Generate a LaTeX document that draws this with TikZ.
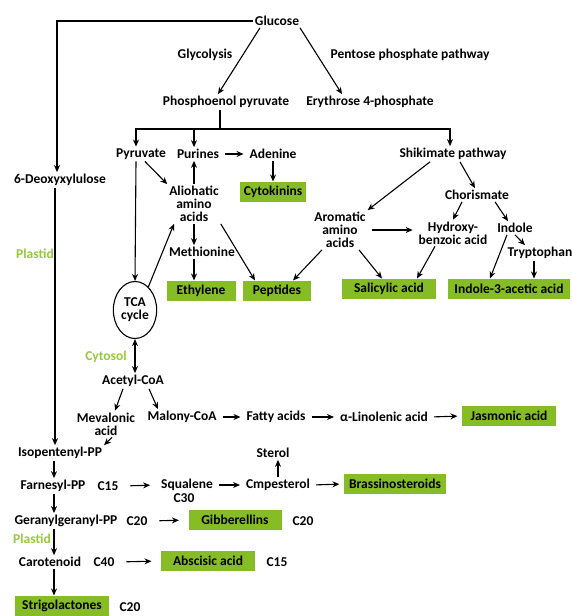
\documentclass[tikz,border=0pt]{standalone}
\usepackage{fontspec}
\setmainfont{Carlito}
\usetikzlibrary{shapes.geometric,arrows.meta}
\definecolor{hgreen}{RGB}{134,188,37}
\definecolor{tgreen}{RGB}{150,200,60}
\begin{document}
\begin{tikzpicture}[x=1pt,y=-1pt,line width=1.1pt,>={Stealth[length=7pt,width=6pt]},
	lbl/.style={font=\bfseries\fontsize{13.5}{13}\selectfont,inner sep=1.5pt,align=center},
	hbox/.style={lbl,fill=hgreen,minimum height=20},
	tag/.style={lbl,text=tgreen},
	hto/.style={->,shorten <=4pt,shorten >=4pt},
	cto/.style={->,shorten <=10pt,shorten >=9pt}]
	\useasboundingbox (0,0) rectangle (571,616);
	% glucose and glycolysis
	\node[lbl] (glu) at (277,21) {Glucose};
	\node[lbl] (gly) at (205,55) {Glycolysis};
	\node[lbl] (ppp) at (410,55) {Pentose phosphate pathway};
	\node[lbl] (pep) at (226,102) {Phosphoenol pyruvate};
	\node[lbl] (ery) at (370,102) {Erythrose 4-phosphate};
	\node[lbl] (deox) at (60,180) {6-Deoxyxylulose};
	\node[tag] (plas1) at (35,254) {Plastid};
	\draw[->] (glu.west) -| ([xshift=-3]deox.north);
	\draw[->] ([xshift=-17]glu.south) -- ([xshift=-8]pep.north);
	\draw[->] ([xshift=23]glu.south) -- ([xshift=-28]ery.north);
	% amino acids
	\node[lbl] (pyr) at (141,154) {Pyruvate};
	\node[lbl] (pur) at (198,154) {Purines};
	\node[lbl] (ade) at (273,154) {Adenine};
	\node[hbox,minimum width=66] (cyt) at (273,192) {Cytokinins};
	\node[lbl] (ali) at (194,204) {Aliohatic\\amino\\acids};
	\node[lbl] (meth) at (202,252) {Methionine};
	\node[hbox,minimum width=69] (eth) at (201,291) {Ethylene};
	\node[hbox,minimum width=68] (ptd) at (277,291) {Peptides};
	\node[ellipse,draw,lbl,minimum width=39,minimum height=57] (tca) at (135,310) {TCA\\cycle};
	\coordinate (br) at (220,129);
	\draw ([xshift=-6]pep.south) -- (br);
	\draw[->] (br) -| ([xshift=-5]pyr.north);
	\draw[->] ([xshift=-4]pur.north |- br) -- ([xshift=-4]pur.north);
	\draw[hto] (pur.east) -- (ade.west);
	\draw[->] (ade.south) -- (cyt.north);
	\draw[->] ([xshift=4]pyr.south) -- (ali.north west);
	\draw[->] (ali.north) -- (pur.south -| ali.north);
	\draw[->] ([xshift=-5]pyr.south) -- (tca.north);
	\draw[->] (tca.60) -- ([xshift=-20]ali.south);
	\draw[->] (ali.south) -- ([xshift=-8]meth.north);
	\draw[->] ([xshift=-8]meth.south) -- ([xshift=-7]eth.north);
	\draw[->] (ali.south east) -- ([xshift=-22]ptd.north);
	% shikimate pathway
	\node[lbl] (shik) at (453,154) {Shikimate pathway};
	\node[lbl] (chor) at (477,195) {Chorismate};
	\node[lbl] (aro) at (340,230) {Aromatic\\amino\\acids};
	\node[lbl] (hyd) at (453,233) {Hydroxy-\\benzoic acid};
	\node[lbl] (ind) at (515,228) {Indole};
	\node[lbl] (try) at (540,253) {Tryptophan};
	\node[hbox,minimum width=94] (sal) at (389,289) {Salicylic acid};
	\node[hbox,minimum width=122] (iaa) at (509,289) {Indole-3-acetic acid};
	\draw[->] (br) -| ([xshift=-3]shik.north);
	\draw[->] ([xshift=-23]shik.south) -- (aro.north east);
	\draw[->] ([xshift=7]shik.south) -- ([xshift=-2]chor.north);
	\draw[->] ([xshift=-15]chor.south) -- (hyd.north);
	\draw[->] ([xshift=18]chor.south) -- ([xshift=-7]ind.north);
	\draw[hto] (aro.east) -- (aro.east -| hyd.west);
	\draw[->] (ind.south) -- ([xshift=-15]try.north);
	\draw[->] ([xshift=-6]try.south) -- ([xshift=25]iaa.north);
	\draw[->] ([xshift=-8]ind.south) -- ([xshift=-19]iaa.north);
	\draw[->] ([xshift=-18]hyd.south) -- ([xshift=28]sal.north);
	\draw[->] ([xshift=19]aro.south) -- ([xshift=-7]sal.north);
	\draw[->] ([xshift=-18]aro.south) -- ([xshift=16]ptd.north);
	% acetyl-CoA
	\node[tag] (cytosol) at (106,357) {Cytosol};
	\node[lbl] (acoa) at (133,381) {Acetyl-CoA};
	\node[lbl] (mev) at (106,424) {Mevalonic\\acid};
	\node[lbl] (mal) at (182,417) {Malony-CoA};
	\node[lbl] (fat) at (276,417) {Fatty acids};
	\node[lbl] (lin) at (384,417) {α-Linolenic acid};
	\node[hbox,minimum width=94] (jas) at (509,416) {Jasmonic acid};
	\draw[<->] (tca.south) -- (tca.south |- acoa.north);
	\draw[->] ([xshift=-10]acoa.south) -- ([xshift=9]mev.north);
	\draw[->] ([xshift=16]acoa.south) -- ([xshift=-24]mal.north);
	\draw[hto] (mal.east) -- (fat.west);
	\draw[hto] (fat.east) -- (lin.west);
	\draw[hto] (lin.east) -- (jas.west);
	% terpenoids
	\node[lbl] (ipp) at (60,453) {Isopentenyl-PP};
	\node[lbl] (far) at (53,486) {Farnesyl-PP};
	\node[lbl] (c15a) at (108,486) {C15};
	\node[lbl] (sq) at (187,485) {Squalene};
	\node[lbl] (c30) at (184,498) {C30};
	\node[lbl] (cmp) at (278,485) {Cmpesterol};
	\node[lbl] (ster) at (273,453) {Sterol};
	\node[hbox,minimum width=102] (bra) at (395,484) {Brassinosteroids};
	\node[lbl] (ggpp) at (66,521) {Geranylgeranyl-PP};
	\node[lbl] (c20a) at (137,521) {C20};
	\node[hbox,minimum width=93] (gib) at (235,520) {Gibberellins};
	\node[lbl] (c20b) at (303,521) {C20};
	\node[tag] (plas2) at (32,539) {Plastid};
	\node[lbl] (car) at (50,562) {Carotenoid};
	\node[lbl] (c40) at (104,562) {C40};
	\node[hbox,minimum width=94] (aba) at (208,561) {Abscisic acid};
	\node[lbl] (c15b) at (277,562) {C15};
	\node[hbox,minimum width=94] (str) at (62,606) {Strigolactones};
	\node[lbl] (c20c) at (130,607) {C20};
	\draw[->] ([xshift=-5]deox.south) -- ([xshift=-5]ipp.north);
	\draw[->] ([xshift=6]mev.south) -- (ipp.north east);
	\draw[->] ([xshift=-6]ipp.south) -- ([xshift=1]far.north);
	\draw[cto] (c15a.east) -- (sq.west);
	\draw[hto] (sq.east) -- (cmp.west);
	\draw[hto] (cmp.east) -- (bra.west);
	\draw[->] (cmp.north) -- (cmp.north |- ster.south);
	\draw[->] ([xshift=1]far.south) -- ([xshift=-12]ggpp.north);
	\draw[cto] (c20a.east) -- (gib.west);
	\draw[->] ([xshift=-12]ggpp.south) -- ([xshift=4]car.north);
	\draw[cto] (c40.east) -- (aba.west);
	\draw[->] ([xshift=4]car.south) -- ([xshift=-8]str.north);
\end{tikzpicture}
\end{document}
